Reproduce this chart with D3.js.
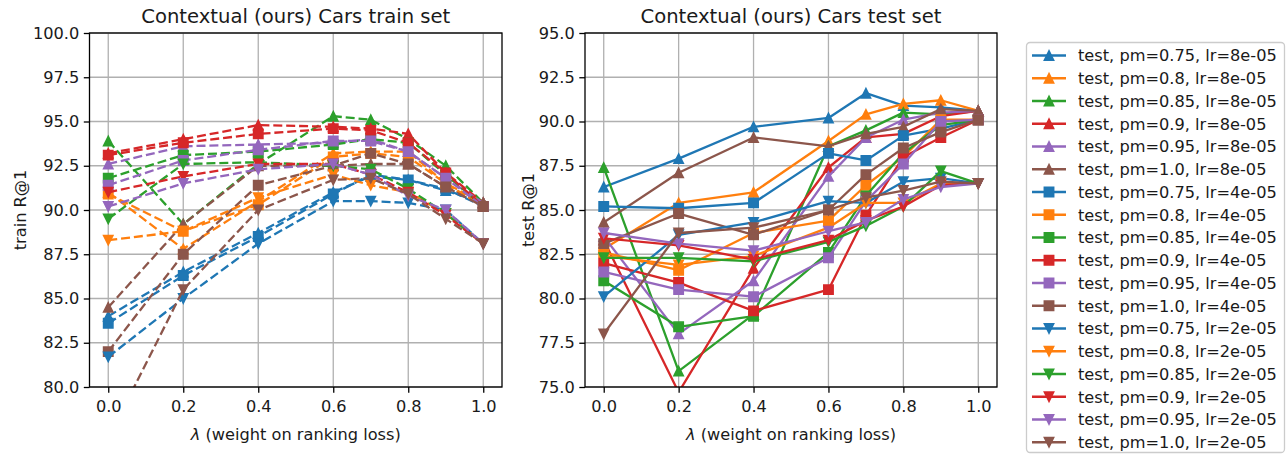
<!DOCTYPE html>
<html><head><meta charset="utf-8">
<script src="https://cdn.jsdelivr.net/npm/d3@7"></script>
<style>body{margin:0;background:#fff;} svg{display:block;font-family:"DejaVu Sans",sans-serif;}</style>
</head><body>
<svg id="chart" width="1288" height="456"></svg>
<script>
// ---------- data ----------
const lambdas = [0, 0.2, 0.4, 0.6, 0.7, 0.8, 0.9, 1.0];
const pmValues = ["0.75", "0.8", "0.85", "0.9", "0.95", "1.0"];
const lrValues = ["8e-05", "4e-05", "2e-05"];
const xTicks = [0, 0.2, 0.4, 0.6, 0.8, 1.0];
const trainTicks = [80, 82.5, 85, 87.5, 90, 92.5, 95, 97.5, 100];
const testTicks = [75, 77.5, 80, 82.5, 85, 87.5, 90, 92.5, 95];

// train R@1, rows = pm 0.75..1.0
const trainLr8 = [
  [84.0, 86.5, 88.7, 91.0, 91.9, 91.7, 91.1, 90.4],
  [91.0, 87.8, 90.5, 93.2, 93.3, 93.3, 91.5, 90.4],
  [93.9, 89.2, 92.6, 95.3, 95.1, 94.0, 92.5, 90.4],
  [93.2, 94.0, 94.8, 94.7, 94.6, 94.3, 92.1, 90.4],
  [92.6, 93.6, 93.7, 93.8, 94.0, 93.3, 91.8, 90.4],
  [84.5, 89.2, 92.5, 92.5, 92.6, 92.6, 91.3, 90.4]
];
const trainLr4 = [
  [83.6, 86.3, 88.5, 90.9, 92.0, 91.7, 91.2, 90.2],
  [90.9, 88.8, 90.3, 93.0, 93.2, 93.0, 91.5, 90.2],
  [91.8, 93.1, 93.3, 93.7, 94.0, 93.8, 92.0, 90.2],
  [93.1, 93.8, 94.3, 94.6, 94.5, 93.8, 92.1, 90.2],
  [91.4, 92.8, 93.4, 93.9, 93.9, 93.3, 91.8, 90.2],
  [82.0, 87.5, 91.4, 92.5, 93.2, 92.6, 91.3, 90.2]
];
const trainLr2 = [
  [81.7, 85.0, 88.1, 90.5, 90.5, 90.4, 90.0, 88.1],
  [88.3, 88.8, 90.7, 92.0, 91.4, 91.0, 89.8, 88.1],
  [89.5, 92.6, 92.7, 92.5, 92.3, 91.2, 89.8, 88.1],
  [91.0, 91.9, 92.6, 92.6, 92.0, 91.0, 89.7, 88.1],
  [90.2, 91.5, 92.3, 92.6, 92.0, 90.8, 90.0, 88.1],
  [77.1, 85.5, 90.0, 91.7, 91.8, 90.9, 89.5, 88.1]
];
// test R@1
const testLr8 = [
  [86.3, 87.9, 89.7, 90.2, 91.6, 90.9, 90.8, 90.6],
  [82.8, 85.4, 86.0, 88.9, 90.4, 91.0, 91.2, 90.6],
  [87.4, 75.9, 79.1, 88.6, 89.5, 90.5, 90.4, 90.6],
  [83.3, 74.7, 81.7, 87.4, 89.1, 89.3, 90.3, 90.6],
  [83.5, 78.0, 81.0, 86.9, 89.1, 90.1, 90.5, 90.6],
  [84.3, 87.1, 89.1, 88.6, 89.3, 89.7, 90.7, 90.6]
];
const testLr4 = [
  [85.2, 85.1, 85.4, 88.2, 87.8, 89.2, 89.6, 90.1],
  [82.6, 81.6, 83.7, 84.4, 86.4, 88.0, 90.1, 90.1],
  [81.0, 78.4, 79.0, 82.6, 85.8, 88.2, 89.8, 90.1],
  [82.0, 80.9, 79.3, 80.5, 84.7, 88.0, 89.1, 90.1],
  [81.5, 80.5, 80.1, 82.3, 85.5, 87.6, 90.0, 90.1],
  [83.1, 84.8, 83.6, 85.0, 87.0, 88.5, 89.4, 90.1]
];
const testLr2 = [
  [80.1, 83.6, 84.3, 85.5, 85.4, 86.6, 86.8, 86.5],
  [82.4, 81.9, 82.4, 84.0, 85.4, 85.4, 86.5, 86.5],
  [82.3, 82.3, 82.1, 83.2, 84.1, 85.2, 87.2, 86.5],
  [83.4, 83.0, 82.2, 83.3, 84.4, 85.2, 86.4, 86.5],
  [83.7, 83.1, 82.7, 83.8, 84.3, 85.6, 86.3, 86.5],
  [78.0, 83.7, 84.0, 85.0, 85.7, 86.1, 86.6, 86.5]
];

// ---------- style ----------
const colors = ["#1f77b4", "#ff7f0e", "#2ca02c", "#d62728", "#9467bd", "#8c564b"];
const markers = ["up", "square", "down"];
const MS = 9.4;   // marker size px
const LW = 2.3;   // line width px
const FS = 16.2;  // tick / label / legend font size
const TFS = 19.6; // title font size
const textColor = "#1a1a1a";

function markerPath(type, s) {
  const h = s / 2;
  if (type === "up") return `M0,${-h}L${-h},${h}L${h},${h}Z`;
  if (type === "down") return `M0,${h}L${-h},${-h}L${h},${-h}Z`;
  return `M${-h},${-h}H${h}V${h}H${-h}Z`;
}

const svg = d3.select("#chart");

function buildSeries(l8, l4, l2) {
  const out = [];
  [l8, l4, l2].forEach((grp, gi) => {
    grp.forEach((vals, pi) => {
      out.push({ color: colors[pi], marker: markers[gi],
                 label: `test, pm=${pmValues[pi]}, lr=${lrValues[gi]}`,
                 pts: lambdas.map((l, i) => [l, vals[i]]) });
    });
  });
  return out;
}

function panel(opt) {
  const { left, top, width, height, yDomain, yTicks, series, dashed, title, ylabel, id } = opt;
  const x = d3.scaleLinear().domain([-0.05, 1.05]).range([0, width]);
  const y = d3.scaleLinear().domain(yDomain).range([height, 0]);
  const g = svg.append("g").attr("transform", `translate(${left},${top})`);

  g.append("clipPath").attr("id", id).append("rect").attr("width", width).attr("height", height);

  // grid
  g.append("g").selectAll("line").data(xTicks).join("line")
    .attr("x1", d => x(d)).attr("x2", d => x(d)).attr("y1", 0).attr("y2", height)
    .attr("stroke", "#b0b0b0").attr("stroke-width", 1.3);
  g.append("g").selectAll("line").data(yTicks).join("line")
    .attr("y1", d => y(d)).attr("y2", d => y(d)).attr("x1", 0).attr("x2", width)
    .attr("stroke", "#b0b0b0").attr("stroke-width", 1.3);

  // series
  const line = d3.line().x(d => x(d[0])).y(d => y(d[1]));
  const sg = g.append("g").attr("clip-path", `url(#${id})`);
  series.forEach(s => {
    const ss = sg.append("g");
    ss.append("path").attr("d", line(s.pts)).attr("fill", "none")
      .attr("stroke", s.color).attr("stroke-width", LW)
      .attr("stroke-dasharray", dashed ? "9,3.9" : null)
      .attr("stroke-linejoin", "round").attr("stroke-linecap", dashed ? "butt" : "square");
    ss.selectAll("path.m").data(s.pts).join("path").attr("class", "m")
      .attr("transform", d => `translate(${x(d[0])},${y(d[1])})`)
      .attr("d", markerPath(s.marker, MS))
      .attr("fill", s.color).attr("stroke", s.color).attr("stroke-width", 1.5)
      .attr("stroke-linejoin", "miter");
  });

  // axes
  const xAxis = d3.axisBottom(x).tickValues(xTicks).tickFormat(d3.format(".1f")).tickSize(5.7).tickPadding(8);
  const yAxis = d3.axisLeft(y).tickValues(yTicks).tickFormat(d3.format(".1f")).tickSize(5.7).tickPadding(4.5);
  const gx = g.append("g").attr("transform", `translate(0,${height})`).call(xAxis);
  const gy = g.append("g").call(yAxis);
  [gx, gy].forEach(a => {
    a.select(".domain").remove();
    a.selectAll("line").attr("stroke", "#000").attr("stroke-width", 1.3);
    a.selectAll("text").attr("font-size", FS).attr("fill", textColor).attr("font-family", "DejaVu Sans");
  });

  // frame
  g.append("rect").attr("width", width).attr("height", height).attr("fill", "none")
    .attr("stroke", "#000").attr("stroke-width", 1.3);

  // title and labels
  g.append("text").attr("x", width / 2).attr("y", -9.8).attr("text-anchor", "middle")
    .attr("font-size", TFS).attr("fill", textColor).text(title);
  const xl = g.append("text").attr("x", width / 2).attr("y", height + 52.5).attr("text-anchor", "middle")
    .attr("font-size", FS).attr("fill", textColor);
  xl.append("tspan").attr("font-style", "italic").text("λ");
  xl.append("tspan").text(" (weight on ranking loss)");
  g.append("text").attr("transform", `translate(${opt.ylabelX},${height / 2}) rotate(-90)`)
    .attr("text-anchor", "middle").attr("font-size", FS).attr("fill", textColor).text(ylabel);
}

const trainSeries = buildSeries(trainLr8, trainLr4, trainLr2);
const testSeries = buildSeries(testLr8, testLr4, testLr2);

panel({ id: "clipL", left: 89.5, top: 33, width: 412.5, height: 354, yDomain: [80, 100], yTicks: trainTicks,
        series: trainSeries, dashed: true, title: "Contextual (ours) Cars train set",
        ylabel: "train R@1", ylabelX: -63.5 });
panel({ id: "clipR", left: 585, top: 33, width: 412, height: 354, yDomain: [75, 95], yTicks: testTicks,
        series: testSeries, dashed: false, title: "Contextual (ours) Cars test set",
        ylabel: "test R@1", ylabelX: -51 });

// legend
const lg = svg.append("g").attr("transform", "translate(1026,42)");
lg.append("rect").attr("x", 0.5).attr("y", 0.5).attr("width", 258).attr("height", 410)
  .attr("rx", 3.5).attr("fill", "#fff").attr("fill-opacity", 0.8)
  .attr("stroke", "#cccccc").attr("stroke-width", 1.3);
testSeries.forEach((s, i) => {
  const yy = 13.5 + i * 22.75;
  const row = lg.append("g").attr("transform", `translate(0,${yy})`);
  row.append("line").attr("x1", 6).attr("x2", 40).attr("y1", 0).attr("y2", 0)
    .attr("stroke", s.color).attr("stroke-width", LW);
  row.append("path").attr("transform", "translate(23,0)").attr("d", markerPath(s.marker, MS))
    .attr("fill", s.color).attr("stroke", s.color).attr("stroke-width", 1.5);
  row.append("text").attr("x", 52).attr("y", 5.8).attr("font-size", FS).attr("fill", textColor).text(s.label);
});
</script>
</body></html>
